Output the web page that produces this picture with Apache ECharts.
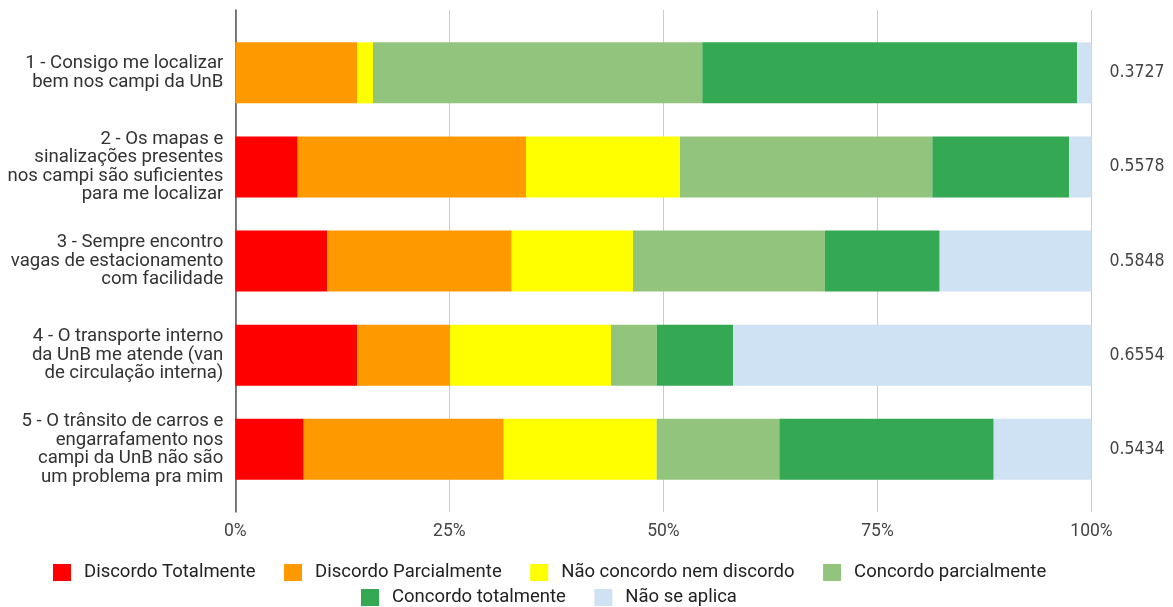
<!DOCTYPE html>
<html>
<head>
<meta charset="utf-8">
<script src="https://cdn.jsdelivr.net/npm/echarts@6/dist/echarts.min.js"></script>
<style>
  html, body { margin: 0; padding: 0; background: #ffffff; }
  #chart { width: 1173px; height: 607px; }
</style>
</head>
<body>
<div id="chart"></div>
<script>
// Survey statements (one bar each)
const categories = [
  '1 - Consigo me localizar\nbem nos campi da UnB',
  '2 - Os mapas e\nsinalizações presentes\nnos campi são suficientes\npara me localizar',
  '3 - Sempre encontro\nvagas de estacionamento\ncom facilidade',
  '4 - O transporte interno\nda UnB me atende (van\nde circulação interna)',
  '5 - O trânsito de carros e\nengarrafamento nos\ncampi da UnB não são\num problema pra mim'
];

// Answer options, in stacking order
const answerNames = [
  'Discordo Totalmente',
  'Discordo Parcialmente',
  'Não concordo nem discordo',
  'Concordo parcialmente',
  'Concordo totalmente',
  'Não se aplica'
];
const answerColors = ['#ff0000', '#ff9900', '#ffff00', '#93c47d', '#34a853', '#cfe2f3'];

// Share of answers per statement (%)
const discordoTotalmente    = [0,     7.29, 10.75, 14.25,  7.99];
const discordoParcialmente  = [14.25, 26.66, 21.53, 10.83, 23.36];
const naoConcordoNemDiscordo = [1.83, 17.99, 14.17, 18.80, 17.87];
const concordoParcialmente  = [38.46, 29.47, 22.42,  5.34, 14.32];
const concordoTotalmente    = [43.77, 16.00, 13.40,  8.94, 25.04];
const naoSeAplica           = [1.69,  2.59, 17.73, 41.84, 11.42];

// Index shown to the right of each bar
const scores = ['0.3727', '0.5578', '0.5848', '0.6554', '0.5434'];

// Percentage axis
const xMin = 0;
const xMax = 100;
const xStep = 25;

const seriesValues = [
  discordoTotalmente,
  discordoParcialmente,
  naoConcordoNemDiscordo,
  concordoParcialmente,
  concordoTotalmente,
  naoSeAplica
];

const FONT = 'Roboto, Arial, sans-serif';
const plotLeft = 235.3;
const plotRight = 81.5;

const chart = echarts.init(document.getElementById('chart'), null, { renderer: 'canvas' });

const legendText = { fontFamily: FONT, fontSize: 18.5, color: '#222222', padding: [0, 0, 0, 8] };

const option = {
  animation: false,
  backgroundColor: '#ffffff',
  grid: [
    // frame: gridlines and percentage labels
    { left: plotLeft, right: plotRight, top: 10, bottom: 95 },
    // bars
    { left: plotLeft, right: plotRight, top: 25.8, bottom: 110.7 }
  ],
  xAxis: [
    {
      gridIndex: 0,
      type: 'value',
      min: xMin, max: xMax, interval: xStep,
      axisLine: { show: false },
      axisTick: { show: false },
      splitLine: { show: true, lineStyle: { color: '#cccccc', width: 1 } },
      axisLabel: {
        formatter: v => v + '%',
        fontFamily: FONT, fontSize: 17.5, color: '#444444', margin: 11
      }
    },
    {
      gridIndex: 1,
      type: 'value',
      min: xMin, max: xMax,
      show: false
    }
  ],
  yAxis: [
    {
      gridIndex: 0,
      type: 'value',
      axisLine: { show: true, lineStyle: { color: '#555555', width: 1.5 } },
      axisTick: { show: false },
      axisLabel: { show: false },
      splitLine: { show: false }
    },
    {
      gridIndex: 1,
      type: 'category',
      inverse: true,
      data: categories,
      axisLine: { show: false },
      axisTick: { show: false },
      axisLabel: {
        fontFamily: FONT, fontSize: 18.6, lineHeight: 18.5,
        color: '#333333', margin: 12, align: 'right'
      }
    },
    {
      gridIndex: 1,
      type: 'category',
      position: 'right',
      inverse: true,
      data: scores,
      axisLine: { show: false },
      axisTick: { show: false },
      axisLabel: {
        fontFamily: '"Liberation Sans Narrow", "Arial Narrow", "DejaVu Sans Condensed", sans-serif',
        fontSize: 17.5, color: '#444444', margin: 18, align: 'left'
      }
    }
  ],
  legend: [
    {
      data: answerNames.slice(0, 4), left: 53, top: 563,
      icon: 'rect', itemWidth: 18, itemHeight: 17, itemGap: 28.5, padding: 0,
      textStyle: legendText
    },
    {
      data: answerNames.slice(4), left: 361, top: 588,
      icon: 'rect', itemWidth: 18, itemHeight: 17, itemGap: 28.5, padding: 0,
      textStyle: legendText
    }
  ],
  series: answerNames.map((name, i) => ({
    name: name,
    type: 'bar',
    stack: 'respostas',
    xAxisIndex: 1,
    yAxisIndex: 1,
    barWidth: 61,
    itemStyle: { color: answerColors[i] },
    data: seriesValues[i]
  }))
};

chart.setOption(option);
</script>
</body>
</html>
